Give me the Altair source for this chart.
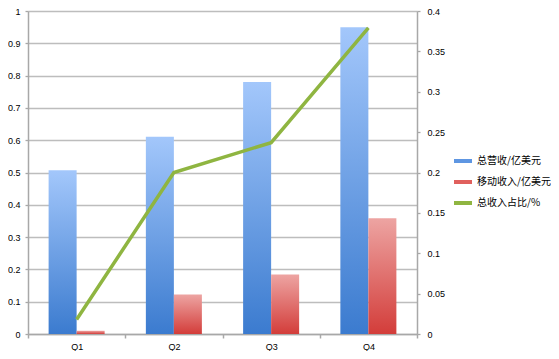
import altair as alt
import pandas as pd

quarters = ["Q1", "Q2", "Q3", "Q4"]
revenue = [0.507, 0.611, 0.780, 0.950]
mobile = [0.010, 0.122, 0.184, 0.358]
share = [0.018, 0.200, 0.237, 0.379]
series_names = ["总营收/亿美元", "移动收入/亿美元", "总收入占比/%"]
left_ticks = [0, 0.1, 0.2, 0.3, 0.4, 0.5, 0.6, 0.7, 0.8, 0.9, 1]
right_ticks = [0, 0.05, 0.1, 0.15, 0.2, 0.25, 0.3, 0.35, 0.4]

bars_df = pd.DataFrame({
    "quarter": quarters * 2,
    "series": [series_names[0]] * 4 + [series_names[1]] * 4,
    "value": revenue + mobile,
})
line_df = pd.DataFrame({"quarter": quarters, "series": series_names[2], "value": share})

FONT = "Liberation Sans"
AX = "#a8a8a8"

blue_grad = alt.Gradient(gradient="linear", x1=0, x2=0, y1=0, y2=1,
                         stops=[alt.GradientStop(color="#a3c7fb", offset=0),
                                alt.GradientStop(color="#3b7bcf", offset=1)])
red_grad = alt.Gradient(gradient="linear", x1=0, x2=0, y1=0, y2=1,
                        stops=[alt.GradientStop(color="#eda4a2", offset=0),
                               alt.GradientStop(color="#d33d3a", offset=1)])

x_enc = alt.X("quarter:N", sort=quarters,
              scale=alt.Scale(paddingInner=0, paddingOuter=0),
              axis=alt.Axis(title=None, labelAngle=0, tickBand="extent", grid=False,
                            domainColor=AX, tickColor=AX, domainWidth=1.5, tickWidth=1.5,
                            tickSize=4, labelPadding=4, labelFont=FONT, labelFontSize=9,
                            labelColor="black"))
xoff = alt.XOffset("series:N", sort=series_names[:2],
                   scale=alt.Scale(domain=series_names[:2], paddingInner=0, paddingOuter=0.736))
y_left = alt.Y("value:Q", scale=alt.Scale(domain=[0, 1], nice=False),
               axis=alt.Axis(title=None, values=left_ticks, format="~g", grid=True,
                             gridColor="#bdbdbd", gridWidth=1.3, domainColor=AX,
                             domainWidth=1.5, tickColor=AX, tickWidth=1.3, tickSize=3,
                             labelPadding=5, labelFont=FONT, labelFontSize=9,
                             labelColor="black"))

blue = alt.Chart(bars_df).transform_filter(
    alt.datum.series == series_names[0]
).mark_bar(fill=blue_grad).encode(x=x_enc, xOffset=xoff, y=y_left)

red = alt.Chart(bars_df).transform_filter(
    alt.datum.series == series_names[1]
).mark_bar(fill=red_grad).encode(x=x_enc, xOffset=xoff, y=y_left)

line = alt.Chart(line_df).mark_line(strokeWidth=3.5).encode(
    x=alt.X("quarter:N", sort=quarters),
    y=alt.Y("value:Q", scale=alt.Scale(domain=[0, 0.4], nice=False),
            axis=alt.Axis(title=None, orient="right", values=right_ticks, format="~g",
                          grid=False, domainColor=AX, domainWidth=1.5, tickColor=AX,
                          tickWidth=1.3, tickSize=3, labelPadding=7, labelFont=FONT,
                          labelFontSize=9, labelColor="black")),
    color=alt.Color("series:N",
                    scale=alt.Scale(domain=series_names,
                                    range=["#5e96e2", "#e0605d", "#8fb541"]),
                    legend=alt.Legend(title=None, orient="none", legendX=424, legendY=139,
                                      symbolType="stroke", symbolSize=324,
                                      symbolStrokeWidth=4, labelFont="Noto Sans CJK SC",
                                      labelFontSize=10, labelColor="black",
                                      labelOffset=3, rowPadding=2, padding=0,
                                      labelLimit=200)),
)

chart = alt.layer(alt.layer(blue, red), line).resolve_scale(y="independent").properties(
    width=389, height=323,
    padding={"left": 20, "top": 3, "right": 134, "bottom": 17},
    autosize=alt.AutoSizeParams(type="none"),
).configure_view(stroke=None)

chart.save("out.html", embed_options={"renderer": "svg", "actions": False})
